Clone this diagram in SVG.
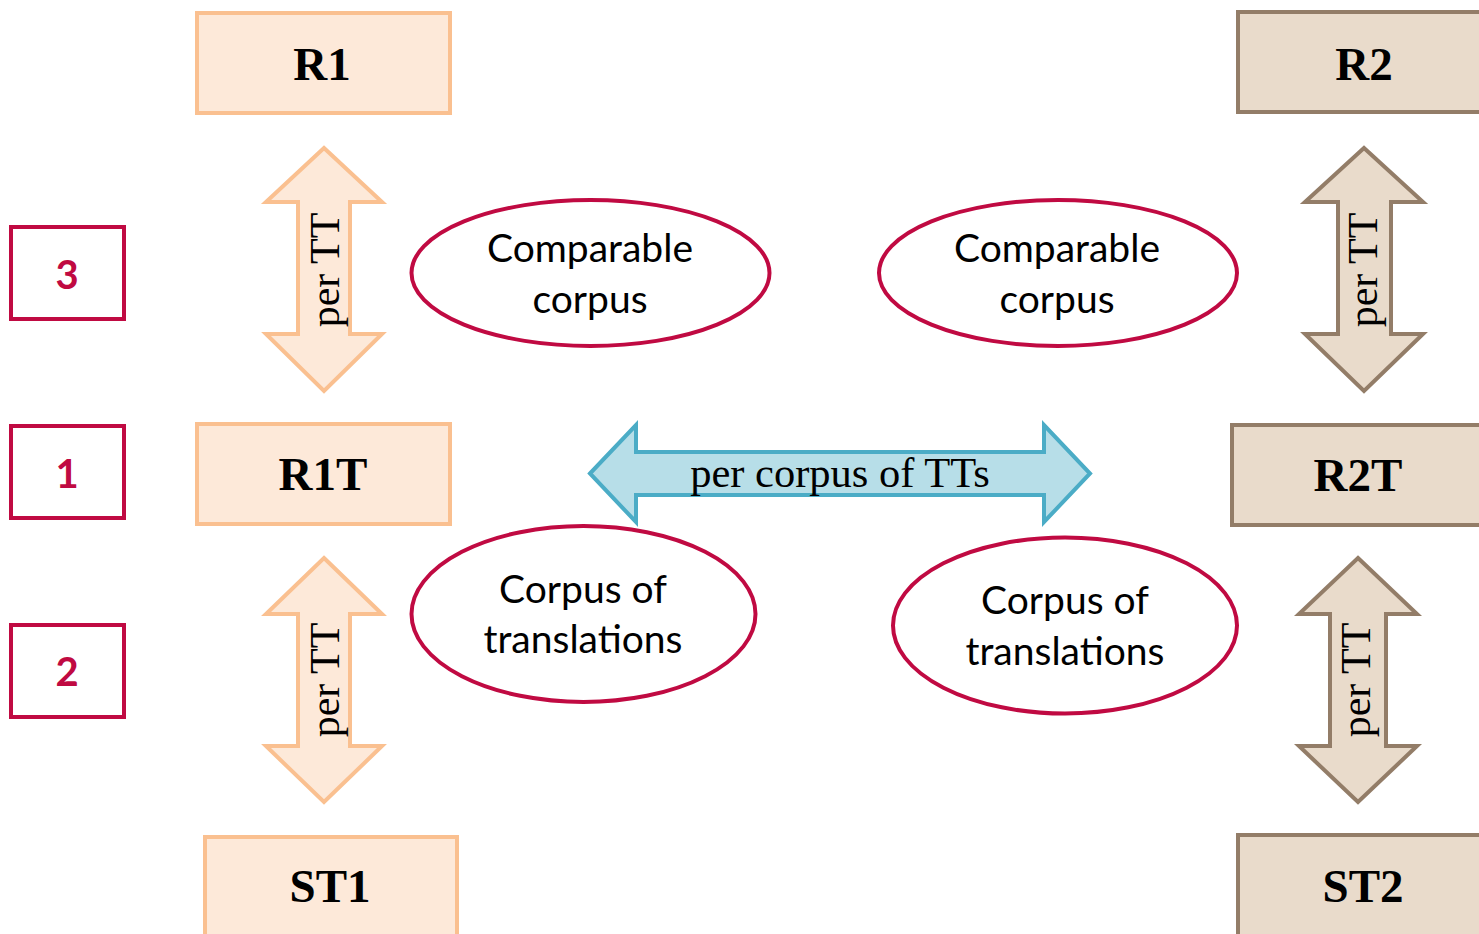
<svg xmlns="http://www.w3.org/2000/svg" width="1479" height="934" viewBox="0 0 1479 934">
<style>
.peach{fill:#FDE9D9;stroke:#FAC090;stroke-width:4}
.brown{fill:#E9DBCB;stroke:#937D68;stroke-width:4}
.blue{fill:#B7DEE8;stroke:#4BACC6;stroke-width:4}
.num{fill:#fff;stroke:#C00A42;stroke-width:4}
.ell{fill:#fff;stroke:#C00A42;stroke-width:4}
.bt{font-family:"Liberation Serif",serif;font-weight:bold;font-size:47px;fill:#000;text-anchor:middle}
.at{font-family:"Liberation Serif",serif;font-size:42px;fill:#000;text-anchor:middle}
.nt{font-family:Lato,"Liberation Sans",sans-serif;font-weight:bold;font-size:40px;fill:#C00A42;text-anchor:middle}
.et{font-family:Lato,"Liberation Sans",sans-serif;font-size:39px;fill:#000;text-anchor:middle}
</style>
<rect width="1479" height="934" fill="#fff"/>
<g id="connectors">
  <g id="arrow-r1-r1t">
    <polygon class="peach" points="324,148 382,202 350,202 350,334 382,334 324,391 266,334 298,334 298,202 266,202"/>
    <text class="at" transform="translate(339,270) rotate(-90)">per TT</text>
  </g>
  <g id="arrow-r1t-st1">
    <polygon class="peach" points="324,558 382,614 350,614 350,746 382,746 324,802 266,746 298,746 298,614 266,614"/>
    <text class="at" transform="translate(339,680) rotate(-90)">per TT</text>
  </g>
  <g id="arrow-r2-r2t">
    <polygon class="brown" points="1364,148 1423,202 1391,202 1391,334 1423,334 1364,391 1305,334 1338,334 1338,202 1305,202"/>
    <text class="at" transform="translate(1377,270) rotate(-90)">per TT</text>
  </g>
  <g id="arrow-r2t-st2">
    <polygon class="brown" points="1358,558 1417,614 1386,614 1386,746 1417,746 1358,802 1299,746 1330,746 1330,614 1299,614"/>
    <text class="at" transform="translate(1370,680) rotate(-90)">per TT</text>
  </g>
  <g id="arrow-r1t-r2t">
    <polygon class="blue" points="590,473.5 636,425 636,452 1044,452 1044,425 1090,473.5 1044,522 1044,495 636,495 636,522"/>
    <text class="at" x="840" y="487" style="font-size:42.5px">per corpus of TTs</text>
  </g>
</g>
<g id="R1"><rect class="peach" x="197" y="13" width="253" height="100"/><text class="bt" x="322" y="80">R1</text></g>
<g id="R1T"><rect class="peach" x="197" y="424" width="253" height="100"/><text class="bt" x="323" y="490">R1T</text></g>
<g id="ST1"><rect class="peach" x="205" y="837" width="252" height="110"/><text class="bt" x="330" y="902">ST1</text></g>
<g id="R2"><rect class="brown" x="1238" y="12" width="260" height="100"/><text class="bt" x="1364" y="80">R2</text></g>
<g id="R2T"><rect class="brown" x="1232" y="425" width="265" height="100"/><text class="bt" x="1358" y="491">R2T</text></g>
<g id="ST2"><rect class="brown" x="1238" y="835" width="260" height="110"/><text class="bt" x="1363" y="902">ST2</text></g>
<g id="n3"><rect class="num" x="11" y="227" width="113" height="92"/><text class="nt" x="67" y="289">3</text></g>
<g id="n1"><rect class="num" x="11" y="426" width="113" height="92"/><text class="nt" x="67" y="488">1</text></g>
<g id="n2"><rect class="num" x="11" y="625" width="113" height="92"/><text class="nt" x="67" y="686">2</text></g>
<g id="comp-left"><ellipse class="ell" cx="590.5" cy="273" rx="179" ry="73"/><text class="et" x="590" y="262">Comparable</text><text class="et" x="590" y="313">corpus</text></g>
<g id="comp-right"><ellipse class="ell" cx="1058" cy="273" rx="179" ry="73"/><text class="et" x="1057" y="262">Comparable</text><text class="et" x="1057" y="313">corpus</text></g>
<g id="trans-left"><ellipse class="ell" cx="583.5" cy="614" rx="172" ry="88"/><text class="et" x="583" y="603">Corpus of</text><text class="et" x="583" y="653">translations</text></g>
<g id="trans-right"><ellipse class="ell" cx="1065" cy="625.5" rx="172" ry="88"/><text class="et" x="1065" y="614">Corpus of</text><text class="et" x="1065" y="665">translations</text></g>
</svg>
